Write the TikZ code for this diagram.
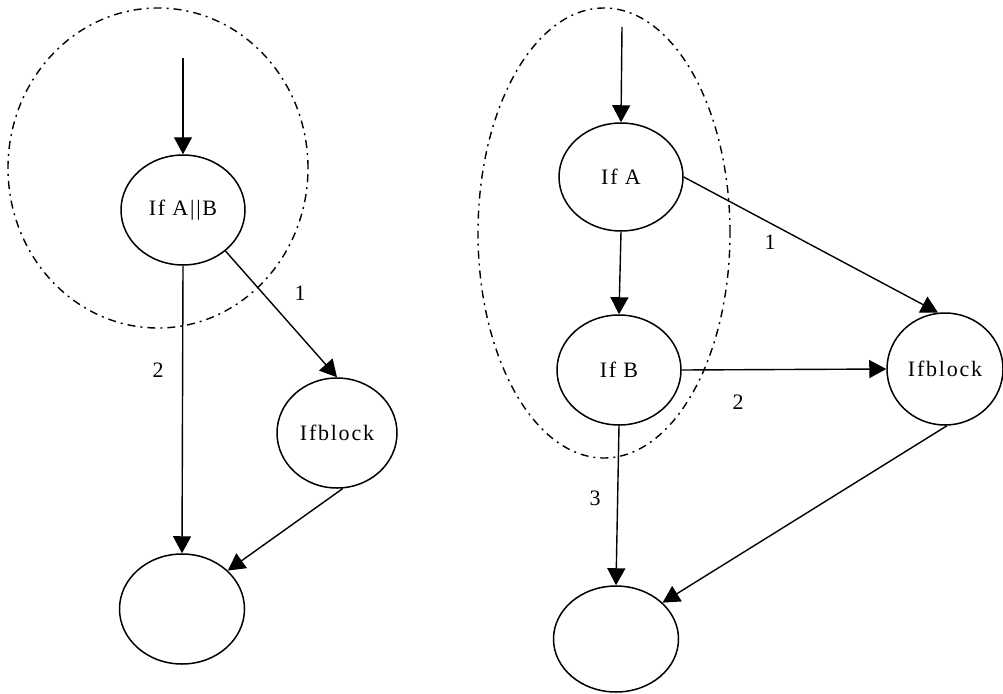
\documentclass[tikz,border=0pt]{standalone}
\usepackage{fontspec}
\setmainfont{Liberation Serif}[LetterSpace=8]
\usetikzlibrary{shapes.geometric,arrows.meta}

\tikzset{
  blob/.style={draw, ellipse, line width=1.5pt, inner sep=0pt,
               font=\fontsize{22}{26}\selectfont},
  group/.style={draw, ellipse, line width=1.4pt,
               dash pattern=on 8pt off 5pt on 2pt off 5pt},
  flow/.style={line width=1.4pt, -{Triangle[length=17pt,width=18pt]}},
  lbl/.style={font=\fontsize{22}{26}\selectfont, inner sep=0pt}
}

\begin{document}
\begin{tikzpicture}[x=1pt, y=-1pt]
  \useasboundingbox (0,0) rectangle (1003,693);

  % ---- left: merged condition ----
  \node[group, minimum width=300pt, minimum height=320pt] (lgrp) at (158,168) {};
  \node[blob, minimum width=124pt, minimum height=110pt] (lab) at (183,210) {If A{\textbar}{\textbar}B};
  \node[blob, minimum width=120pt, minimum height=110pt] (lblk) at (337,433) {Ifblock};
  \node[blob, minimum width=125pt, minimum height=110pt] (lend) at (182,609) {};
  \coordinate (lin) at (183,58);

  \draw[flow] (lin) -- (lab.north);
  \draw[flow] (lab.south) -- (lend.north);
  \draw[flow] (lab.-44) -- (lblk.north);
  \draw[flow] (lblk.-84) -- (lend.40);

  \node[lbl] (l1) at (300,293) {1};
  \node[lbl] (l2) at (158,370) {2};

  % ---- right: split conditions ----
  \node[group, minimum width=252pt, minimum height=450pt] (rgrp) at (604,233) {};
  \node[blob, minimum width=124pt, minimum height=108pt] (ra) at (621,177) {If A};
  \node[blob, minimum width=124pt, minimum height=110pt] (rb) at (619,370) {If B};
  \node[blob, minimum width=116pt, minimum height=112pt] (rblk) at (945,369) {Ifblock};
  \node[blob, minimum width=125pt, minimum height=106pt] (rend) at (616,639) {};
  \coordinate (rin) at (622,27);

  \draw[flow] (rin) -- (ra.north);
  \draw[flow] (ra.south) -- (rb.north);
  \draw[flow] (ra.east) -- (rblk.97);
  \draw[flow] (rb.east) -- (rblk.west);
  \draw[flow] (rb.south) -- (rend.north);
  \draw[flow] (rblk.-88) -- (rend.38);

  \node[lbl] (r1) at (770,242) {1};
  \node[lbl] (r2) at (738,402) {2};
  \node[lbl] (r3) at (595,498) {3};
\end{tikzpicture}
\end{document}
